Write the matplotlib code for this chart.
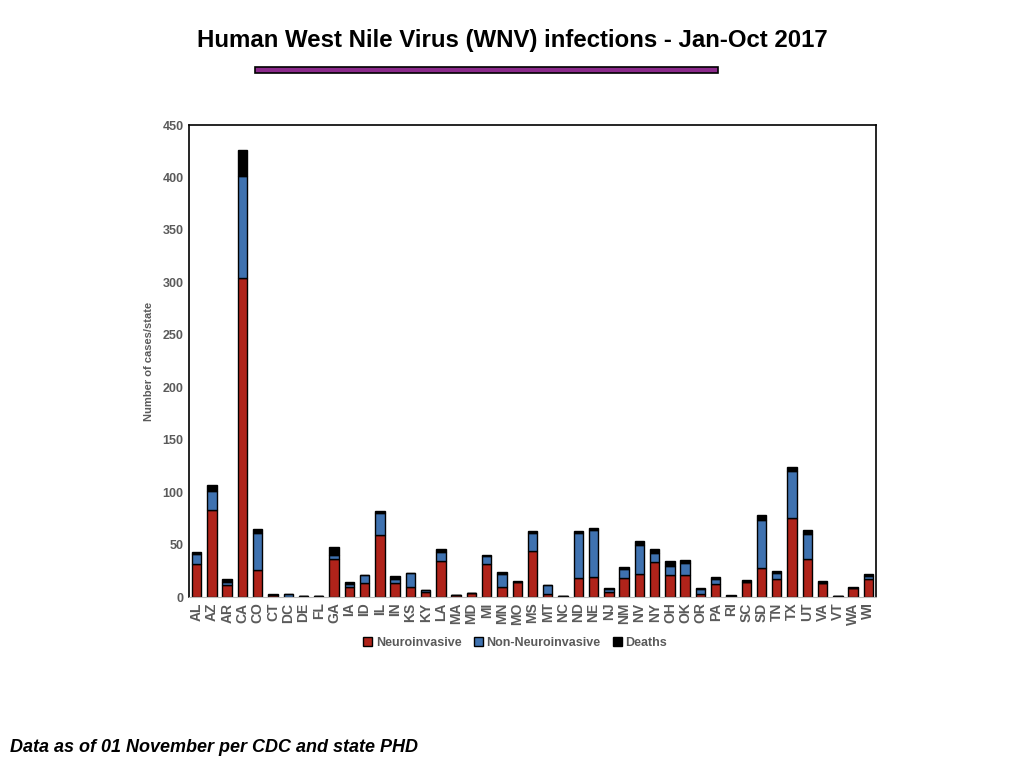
import matplotlib
matplotlib.use("Agg")
import numpy as np
import matplotlib.pyplot as plt
from matplotlib.patches import Rectangle

states = ["AL", "AZ", "AR", "CA", "CO", "CT", "DC", "DE", "FL", "GA", "IA", "ID",
          "IL", "IN", "KS", "KY", "LA", "MA", "MD", "MI", "MN", "MO", "MS", "MT",
          "NC", "ND", "NE", "NJ", "NM", "NV", "NY", "OH", "OK", "OR", "PA", "RI",
          "SC", "SD", "TN", "TX", "UT", "VA", "VT", "WA", "WI"]
neuro = [31, 83, 11, 304, 26, 2, 0, 1, 1, 36, 10, 13,
         59, 13, 10, 5, 34, 2, 4, 31, 10, 14, 44, 3,
         1, 18, 19, 5, 18, 22, 33, 21, 21, 3, 12, 1,
         14, 28, 17, 75, 36, 13, 1, 9, 17]
non_neuro = [10, 18, 3, 97, 35, 0, 3, 0, 0, 4, 2, 8,
             21, 4, 13, 2, 9, 0, 0, 8, 12, 0, 17, 8,
             0, 43, 45, 3, 9, 28, 9, 9, 11, 5, 5, 0,
             0, 45, 6, 45, 24, 0, 0, 0, 3]
deaths = [2, 6, 3, 25, 4, 1, 0, 0, 0, 8, 2, 0,
          2, 3, 0, 0, 3, 0, 0, 1, 2, 1, 2, 0,
          0, 2, 2, 1, 2, 3, 4, 4, 3, 1, 2, 1,
          2, 5, 2, 4, 4, 2, 0, 1, 2]

red = "#B0231A"
blue = "#3F72B0"
grey = "#5a5a5a"

plt.rcParams["font.family"] = ["Liberation Sans", "DejaVu Sans"]

fig = plt.figure(figsize=(10.24, 7.68), dpi=100)
ax = fig.add_axes([189 / 1024, 1 - 597 / 768, 687 / 1024, 472 / 768])

x = np.arange(len(states))
neuro = np.array(neuro)
non_neuro = np.array(non_neuro)
deaths = np.array(deaths)
w = 0.62
ax.bar(x, neuro, w, color=red, edgecolor="black", linewidth=1, label="Neuroinvasive")
ax.bar(x, non_neuro, w, bottom=neuro, color=blue, edgecolor="black", linewidth=1,
       label="Non-Neuroinvasive")
ax.bar(x, deaths, w, bottom=neuro + non_neuro, color="black", edgecolor="black",
       linewidth=1, label="Deaths")

ax.set_xlim(-0.5, len(states) - 0.5)
ax.set_ylim(0, 450)
ax.set_yticks(range(0, 451, 50))
ax.set_xticks(x)
ax.set_xticklabels(states, rotation=90, fontsize=10, fontweight="bold", color=grey)
for lab in ax.get_yticklabels():
    lab.set_fontsize(9)
    lab.set_fontweight("bold")
    lab.set_color(grey)
ax.tick_params(axis="both", length=0, pad=4)
ax.set_ylabel("Number of cases/state", fontsize=8, fontweight="bold", color=grey, labelpad=6)
ax.spines["bottom"].set_color("#bbbbbb")
for s in ["left", "top", "right"]:
    ax.spines[s].set_linewidth(1.2)

ax.legend(loc="upper center", bbox_to_anchor=(0.475, -0.06), ncol=3, frameon=False,
          handlelength=0.7, handleheight=0.7, handletextpad=0.3, columnspacing=1.0,
          prop={"weight": "bold", "size": 9}, labelcolor=grey)

fig.text(0.5, 1 - 40 / 768, "Human West Nile Virus (WNV) infections - Jan-Oct 2017",
         ha="center", va="center", fontsize=17.3, fontweight="bold")
fig.patches.append(Rectangle((255 / 1024, 1 - 73 / 768), 463 / 1024, 6 / 768,
                             transform=fig.transFigure, facecolor="#8B2A8B",
                             edgecolor="black", linewidth=1.2))
fig.text(10 / 1024, 1 - 748 / 768, "Data as of 01 November per CDC and state PHD",
         ha="left", va="center", fontsize=13.0, fontweight="bold", style="italic")

fig.savefig("out.png", dpi=100)
